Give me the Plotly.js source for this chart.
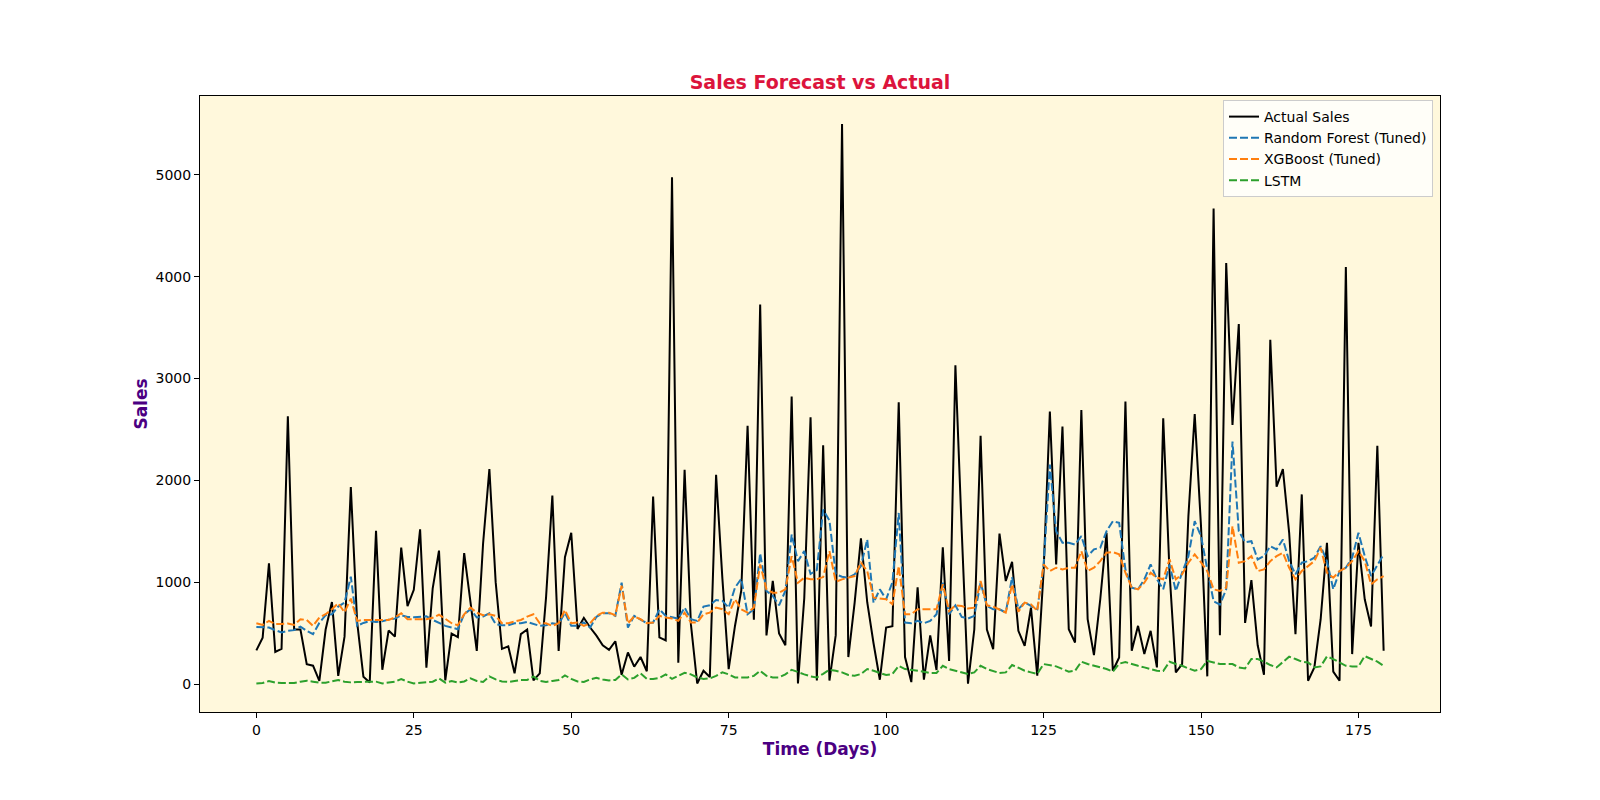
<!DOCTYPE html>
<html>
<head>
<meta charset="utf-8">
<script src="https://cdn.plot.ly/plotly-3.0.1.min.js"></script>
<style>
  html, body { margin: 0; padding: 0; background: #ffffff; }
  #chart { width: 1600px; height: 800px; }
</style>
</head>
<body>
<div id="chart"></div>
<script>
// Daily sales: observed values and three model forecasts (180 days)
const actualSales = [
  330, 455, 1185, 315, 345, 2630, 535, 535, 195, 180,
  30, 535, 805, 80, 465, 1935, 610, 70, 15, 1505,
  140, 525, 465, 1340, 765, 925, 1520, 160, 940, 1310,
  35, 495, 460, 1285, 805, 325, 1380, 2110, 1000, 345,
  370, 105, 490, 535, 35, 105, 850, 1850, 325, 1245,
  1485, 540, 650, 555, 475, 380, 335, 420, 90, 310,
  170, 265, 125, 1840, 458, 428, 4978, 208, 2104, 588,
  5, 130, 69, 2054, 1035, 146, 570, 919, 2535, 631,
  3727, 477, 1012, 496, 380, 2823, 5, 842, 2620, 34,
  2345, 34, 480, 5500, 265, 800, 1430, 803, 400, 42,
  555, 567, 2766, 265, 19, 950, 42, 477, 138, 1342,
  226, 3131, 1510, 4, 535, 2439, 535, 343, 1478, 1011,
  1200, 522, 375, 750, 81, 1100, 2676, 1175, 2529, 538,
  408, 2692, 636, 284, 830, 1485, 130, 261, 2774, 326,
  571, 294, 522, 163, 2610, 1100, 114, 196, 1650, 2650,
  1550, 75, 4670, 480, 4135, 2545, 3535, 600, 1020, 380,
  90, 3380, 1937, 2110, 1485, 489, 1862, 32, 163, 636,
  1387, 121, 32, 4095, 294, 1387, 832, 564, 2340, 326
];

const randomForest = [
  561, 561, 555, 529, 506, 522, 529, 564, 522, 490,
  600, 676, 685, 760, 800, 1054, 571, 600, 616, 610,
  616, 632, 642, 675, 659, 656, 659, 665, 630, 600,
  571, 555, 538, 685, 734, 653, 663, 695, 587, 577,
  577, 597, 597, 610, 587, 571, 577, 597, 587, 701,
  571, 571, 604, 555, 660, 695, 695, 670, 995, 555,
  669, 636, 597, 604, 734, 669, 653, 643, 750, 636,
  620, 760, 773, 825, 816, 750, 946, 1034, 685, 734,
  1283, 914, 865, 773, 914, 1468, 1207, 1305, 1080, 1120,
  1713, 1605, 1077, 1054, 1044, 1077, 1158, 1419, 799, 930,
  832, 1000, 1680, 603, 597, 620, 597, 620, 685, 995,
  685, 773, 659, 643, 669, 995, 767, 734, 734, 702,
  1050, 734, 800, 767, 734, 1158, 2154, 1501, 1387, 1387,
  1370, 1452, 1256, 1322, 1338, 1501, 1599, 1583, 1126, 946,
  930, 1028, 1174, 1028, 930, 1174, 914, 1093, 1256, 1599,
  1452, 1126, 812, 780, 930, 2382, 1501, 1393, 1403, 1223,
  1256, 1354, 1322, 1420, 1207, 1077, 1191, 1207, 1240, 1354,
  1207, 930, 1109, 1142, 1240, 1485, 1256, 1060, 1174, 1273
];

const xgboost = [
  597, 580, 620, 590, 590, 594, 580, 636, 629, 571,
  653, 685, 734, 793, 704, 839, 620, 629, 629, 629,
  629, 629, 653, 695, 636, 636, 629, 636, 650, 680,
  640, 597, 577, 685, 750, 701, 675, 685, 669, 597,
  597, 610, 629, 662, 685, 597, 597, 571, 597, 727,
  597, 604, 571, 597, 669, 701, 701, 675, 965, 595,
  665, 636, 597, 604, 669, 653, 643, 620, 701, 604,
  604, 685, 701, 750, 734, 685, 832, 734, 701, 750,
  1174, 930, 897, 897, 930, 1256, 995, 1044, 1028, 1030,
  1050, 1305, 1004, 1028, 1044, 1060, 1191, 1109, 848, 838,
  832, 783, 1158, 685, 685, 734, 734, 734, 734, 979,
  717, 773, 767, 741, 750, 1011, 773, 760, 734, 702,
  979, 710, 800, 783, 718, 1174, 1109, 1142, 1126, 1142,
  1142, 1305, 1109, 1142, 1207, 1289, 1295, 1273, 1093, 946,
  930, 995, 1093, 1044, 1028, 1224, 1028, 1077, 1191, 1273,
  1195, 1109, 930, 914, 946, 1550, 1191, 1207, 1256, 1109,
  1126, 1207, 1256, 1289, 1142, 1028, 1109, 1158, 1207, 1338,
  1093, 1044, 1109, 1142, 1207, 1305, 1207, 979, 1028, 1060
];

const lstm = [
  6, 10, 29, 13, 10, 10, 10, 23, 33, 23,
  13, 13, 23, 39, 23, 16, 20, 20, 20, 23,
  6, 13, 23, 49, 23, 6, 13, 23, 23, 55,
  13, 30, 15, 25, 55, 30, 20, 75, 45, 25,
  20, 30, 40, 40, 75, 30, 20, 30, 40, 85,
  50, 25, 20, 45, 60, 45, 35, 40, 95, 45,
  60, 105, 50, 50, 60, 95, 50, 80, 110, 95,
  65, 50, 55, 80, 115, 95, 65, 65, 65, 80,
  130, 80, 65, 65, 95, 140, 115, 95, 75, 65,
  100, 140, 130, 114, 88, 82, 98, 147, 130, 108,
  88, 98, 179, 147, 140, 130, 121, 108, 108, 179,
  147, 130, 114, 98, 114, 179, 147, 130, 108, 114,
  186, 160, 130, 114, 98, 196, 186, 173, 147, 121,
  130, 219, 196, 179, 163, 147, 121, 200, 215, 195,
  179, 163, 147, 130, 127, 219, 196, 179, 153, 130,
  147, 228, 212, 196, 196, 196, 163, 153, 245, 245,
  219, 186, 163, 212, 268, 245, 219, 212, 163, 173,
  271, 245, 212, 179, 173, 173, 274, 245, 219, 179
];

// Day index for the x axis
const days = actualSales.map((_, i) => i);

const xTicks = [0, 25, 50, 75, 100, 125, 150, 175];
const yTicks = [0, 1000, 2000, 3000, 4000, 5000];

const FONT = 'DejaVu Sans, sans-serif';

const traces = [
  { x: days, y: actualSales, name: 'Actual Sales', type: 'scatter', mode: 'lines',
    line: { color: '#000000', width: 2 } },
  { x: days, y: randomForest, name: 'Random Forest (Tuned)', type: 'scatter', mode: 'lines',
    line: { color: '#1f77b4', width: 2, dash: '8px,3px' } },
  { x: days, y: xgboost, name: 'XGBoost (Tuned)', type: 'scatter', mode: 'lines',
    line: { color: '#ff7f0e', width: 2, dash: '8px,3px' } },
  { x: days, y: lstm, name: 'LSTM', type: 'scatter', mode: 'lines',
    line: { color: '#2ca02c', width: 2, dash: '8px,3px' } }
];

const axisCommon = {
  showgrid: false,
  zeroline: false,
  showline: true,
  mirror: true,
  linecolor: '#000000',
  linewidth: 1,
  ticks: 'outside',
  ticklen: 5,
  tickwidth: 1,
  tickcolor: '#000000',
  tickfont: { family: FONT, size: 14, color: '#000000' }
};

const layout = {
  width: 1600,
  height: 800,
  margin: { l: 200, r: 160, t: 96, b: 88, pad: 0 },
  paper_bgcolor: '#ffffff',
  plot_bgcolor: '#FFF8DC',
  font: { family: FONT, color: '#000000' },
  title: {
    text: '<b>Sales Forecast vs Actual</b>',
    font: { family: FONT, size: 19, color: '#DC143C' },
    x: 0.5, xref: 'paper', xanchor: 'center',
    y: 1 - 82 / 800, yref: 'container', yanchor: 'middle'
  },
  xaxis: Object.assign({}, axisCommon, {
    range: [-8.95, 187.95],
    tickmode: 'array',
    tickvals: xTicks,
    ticktext: xTicks.map(String),
    title: { text: '<b>Time (Days)</b>', font: { family: FONT, size: 17, color: '#4B0082' }, standoff: 6 }
  }),
  yaxis: Object.assign({}, axisCommon, {
    range: [-275, 5775],
    tickmode: 'array',
    tickvals: yTicks,
    ticktext: yTicks.map(String),
    title: { text: '<b>Sales</b>', font: { family: FONT, size: 17, color: '#4B0082' }, standoff: 3 }
  }),
  showlegend: true,
  legend: {
    x: 1 - 7 / 1240, xanchor: 'right', xref: 'paper',
    y: 1 - 4 / 616, yanchor: 'top', yref: 'paper',
    bgcolor: 'rgba(255,255,255,0.8)',
    bordercolor: '#cccccc',
    borderwidth: 1,
    font: { family: FONT, size: 14, color: '#000000' },
    itemwidth: 30
  }
};

Plotly.newPlot('chart', traces, layout, { displayModeBar: false, staticPlot: true });
</script>
</body>
</html>
